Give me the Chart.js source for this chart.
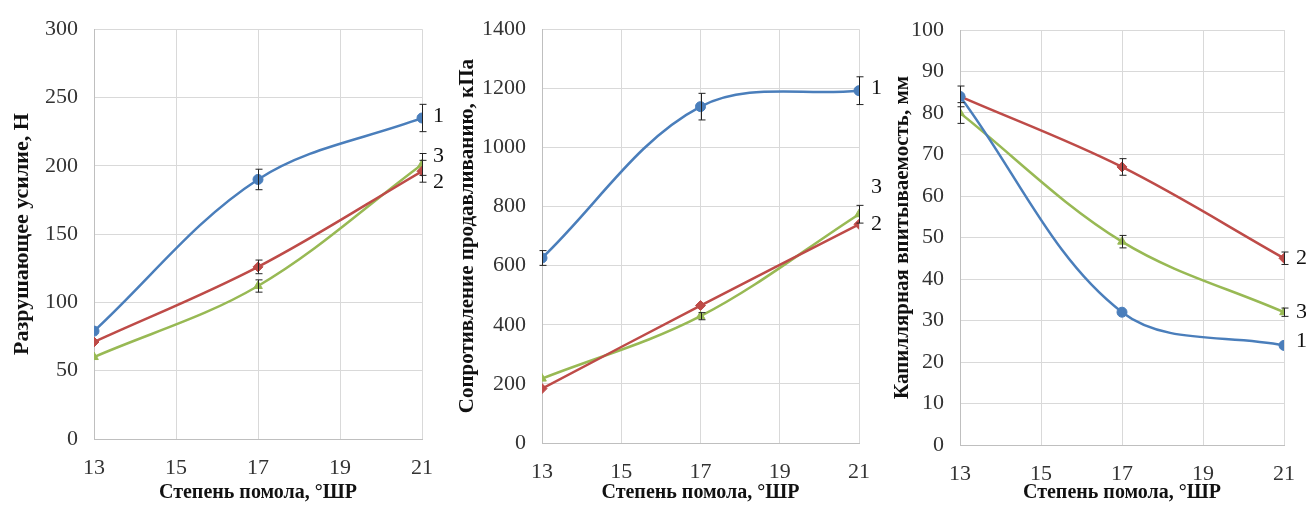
<!DOCTYPE html>
<html><head><meta charset="utf-8">
<script src="https://cdn.jsdelivr.net/npm/chart.js@4/dist/chart.umd.min.js"></script>
<style>
html,body{margin:0;padding:0;background:#fff;width:1306px;height:506px;overflow:hidden;position:relative;}
.box{position:absolute;top:0;height:506px;}
</style></head><body>
<div class="box" style="left:0px;width:460px"><canvas id="c1" width="460" height="506"></canvas></div>
<div class="box" style="left:440px;width:450px"><canvas id="c2" width="450" height="506"></canvas></div>
<div class="box" style="left:870px;width:441px"><canvas id="c3" width="441" height="506"></canvas></div>
<script>
// ---- data ----
const freeness = [13, 17, 21];                 // Степень помола, °ШР
const xTicks = [13, 15, 17, 19, 21];
const seriesNames = ['1', '2', '3'];

// Chart 1: Разрушающее усилие, Н
const strength1 = [79, 190, 235];
const strength2 = [71, 126, 196];
const strength3 = [60, 112, 201];
const strengthErr1 = [0, 7.5, 10];
const strengthErr2 = [0, 5, 8];
const strengthErr3 = [0, 4.5, 8];
const strengthLabelAt = [236, 188, 207];

// Chart 2: Сопротивление продавливанию, кПа
const burst1 = [626, 1138, 1192];
const burst2 = [184, 465, 740];
const burst3 = [218, 429, 774];
const burstErr1 = [25, 45, 47];
const burstErr2 = [0, 0, 0];
const burstErr3 = [0, 12, 30];
const burstLabelAt = [1199, 740, 864];

// Chart 3: Капиллярная впитываемость, мм
const capil1 = [84, 32, 24];
const capil2 = [84, 67, 45];
const capil3 = [80, 49, 32];
const capilErr1 = [2.5, 0, 0];
const capilErr2 = [0, 2, 1.5];
const capilErr3 = [2.5, 1.5, 1];
const capilLabelAt = [25, 45, 32];

// ---- styling ----
const colors = ['#4A7EBB', '#BE4B48', '#98B954'];
const markers = ['circle', 'rectRot', 'triangle'];
const SERIF = '"Liberation Serif", "Times New Roman", serif';

const errorBars = {
  id: 'errorBars',
  afterDatasetsDraw(chart) {
    const ctx = chart.ctx, xs = chart.scales.x, ys = chart.scales.y;
    ctx.save();
    ctx.strokeStyle = '#222';
    ctx.lineWidth = 1;
    chart.data.datasets.forEach(ds => {
      ds.data.forEach((p, i) => {
        const e = ds.errors[i];
        if (!e) return;
        const x = Math.round(xs.getPixelForValue(p.x)) + 0.5;
        const y1 = ys.getPixelForValue(p.y + e), y2 = ys.getPixelForValue(p.y - e);
        ctx.beginPath();
        ctx.moveTo(x, y1); ctx.lineTo(x, y2);
        ctx.moveTo(x - 3, y1); ctx.lineTo(x + 4, y1);
        ctx.moveTo(x - 3, y2); ctx.lineTo(x + 4, y2);
        ctx.stroke();
      });
    });
    ctx.restore();
  }
};

const endLabels = {
  id: 'endLabels',
  afterDraw(chart) {
    const ctx = chart.ctx, xs = chart.scales.x, ys = chart.scales.y;
    const opts = chart.options.plugins.endLabels;
    ctx.save();
    ctx.font = '22px ' + SERIF;
    ctx.fillStyle = '#111';
    ctx.textBaseline = 'middle';
    ctx.textAlign = 'left';
    opts.values.forEach((v, i) => {
      ctx.fillText(seriesNames[i], xs.getPixelForValue(freeness[freeness.length - 1]) + opts.dx, ys.getPixelForValue(v));
    });
    ctx.restore();
  }
};

function makeChart(id, cfg) {
  const datasets = cfg.series.map((vals, s) => ({
    label: seriesNames[s],
    data: freeness.map((x, i) => ({x, y: vals[i]})),
    errors: cfg.errors[s],
    borderColor: colors[s],
    backgroundColor: colors[s],
    pointStyle: markers[s],
    pointRadius: 5,
    pointBorderWidth: 1,
    borderWidth: 2.5,
    tension: 0.35,
    cubicInterpolationMode: 'default'
  }));
  return new Chart(document.getElementById(id), {
    type: 'line',
    data: {datasets},
    plugins: [errorBars, endLabels],
    options: {
      responsive: false,
      devicePixelRatio: 1,
      animation: false,
      layout: {padding: {left: 0, right: cfg.padRight, top: cfg.padTop, bottom: 0}},
      plugins: {
        legend: {display: false},
        tooltip: {enabled: false},
        endLabels: {values: cfg.labelAt, dx: cfg.labelDx}
      },
      scales: {
        x: {
          type: 'linear', min: 13, max: 21,
          afterBuildTicks: sc => { sc.ticks = xTicks.map(v => ({value: v})); },
          afterFit: sc => { sc.height = cfg.xAxisHeight; },
          grid: {color: '#D9D9D9', drawTicks: false, lineWidth: 1},
          border: {color: '#BFBFBF'},
          ticks: {font: {family: SERIF, size: 22}, color: '#333', padding: 16, maxRotation: 0,
                  callback: v => String(v)},
          title: {display: true, text: 'Степень помола, °ШР', font: {family: SERIF, size: 20, weight: 'bold', lineHeight: 1}, color: '#111', padding: {top: 0, bottom: 3}}
        },
        y: {
          min: 0, max: cfg.yMax,
          ticks: {stepSize: cfg.yStep, font: {family: SERIF, size: 22}, color: '#333', padding: 16,
                  callback: v => String(v)},
          afterFit: sc => { sc.width = cfg.yAxisWidth; },
          grid: {color: '#D9D9D9', drawTicks: false, lineWidth: 1},
          border: {color: '#BFBFBF'},
          title: {display: true, text: cfg.yTitle, font: {family: SERIF, size: cfg.yTitleSize, weight: 'bold', lineHeight: 1.2}, color: '#111', padding: {top: cfg.yTitlePad, bottom: 0}}
        }
      }
    }
  });
}

makeChart('c1', {
  series: [strength1, strength2, strength3],
  errors: [strengthErr1, strengthErr2, strengthErr3],
  labelAt: strengthLabelAt, labelDx: 11,
  yMax: 300, yStep: 50, yTitle: 'Разрушающее усилие, Н', yTitleSize: 22,
  yAxisWidth: 94, padRight: 38, padTop: 25, xAxisHeight: 67, yTitlePad: 9
});
makeChart('c2', {
  series: [burst1, burst2, burst3],
  errors: [burstErr1, burstErr2, burstErr3],
  labelAt: burstLabelAt, labelDx: 12,
  yMax: 1400, yStep: 200, yTitle: 'Сопротивление продавливанию, кПа', yTitleSize: 21,
  yAxisWidth: 102, padRight: 31, padTop: 25, xAxisHeight: 63, yTitlePad: 15
});
makeChart('c3', {
  series: [capil1, capil2, capil3],
  errors: [capilErr1, capilErr2, capilErr3],
  labelAt: capilLabelAt, labelDx: 12,
  yMax: 100, yStep: 10, yTitle: 'Капиллярная впитываемость, мм', yTitleSize: 21,
  yAxisWidth: 90, padRight: 27, padTop: 30, xAxisHeight: 61, yTitlePad: 20
});
</script>
</body></html>
